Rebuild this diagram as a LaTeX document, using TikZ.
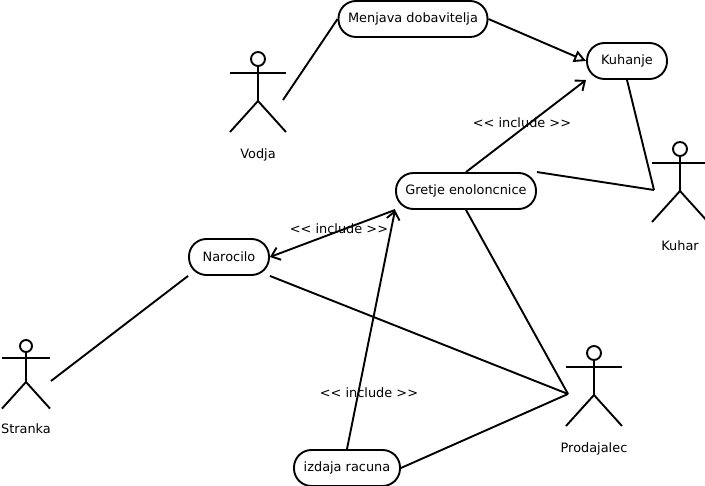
\documentclass[tikz,border=0pt]{standalone}
\usepackage{fontspec}
\setmainfont{DejaVu Sans}
\usetikzlibrary{arrows.meta}

\begin{document}
\begin{tikzpicture}[
    x=1pt, y=-1pt,
    every node/.style={font=\fontsize{12.9}{15}\selectfont},
    usecase/.style={rectangle, draw, line width=1.9pt, rounded corners=17.5pt, minimum height=36pt, inner sep=0pt, align=center},
    head/.style={circle, draw, line width=1.9pt, inner sep=0pt},
    limb/.style={line width=1.9pt},
    link/.style={line width=1.9pt},
    include/.style={line width=1.9pt, -{Straight Barb[length=8pt,width=13pt,line width=1.9pt]}},
    extend/.style={line width=1.9pt, -{Triangle[open,length=12pt,width=12pt,line width=1.9pt]}}
]
\useasboundingbox (0,0) rectangle (705,486);

% use cases
\node[usecase, minimum width=149pt] (menjava) at (413,19) {Menjava dobavitelja};
\node[usecase, minimum width=80pt] (kuhanje) at (627,61) {Kuhanje};
\node[usecase, minimum width=140pt] (gretje) at (466,191) {Gretje enoloncnice};
\node[usecase, minimum width=80pt] (narocilo) at (229,257) {Narocilo};
\node[usecase, minimum width=106pt] (izdaja) at (347,468) {izdaja racuna};

% actors
\foreach \name/\txt/\px/\py/\s/\d in {vodja/Vodja/258/59/1/14, kuhar/Kuhar/680/149/1/14, prodajalec/Prodajalec/594/353/1/14, stranka/Stranka/26/346/0.857/12}{
  \begin{scope}[shift={(\px,\py)}, scale=\s]
    \node[head, minimum size=\d pt] (\name head) at (0,0) {};
    \coordinate (\name hip) at (0,42);
    \draw[limb] (\name head) -- (\name hip);
    \draw[limb] (-28,14) -- (28,14);
    \draw[limb] (-28,73) -- (\name hip) -- (28,73);
    \node (\name) at (0,96.2) {\txt};
  \end{scope}
}

% free ends of the links
\coordinate (vodjaend) at (283,100);
\coordinate (kuharend) at (654,190);
\coordinate (prodend) at (568,394);
\coordinate (strankaend) at (51,381);

\draw[link] (menjava.west) -- (vodjaend);
\draw[link] (kuhanje.south) -- (kuharend);
\draw[link] (gretje.north east) -- (kuharend);
\draw[link] (gretje.south) -- (prodend);
\draw[link] (narocilo.south east) -- (prodend);
\draw[link] (izdaja.east) -- (prodend);
\draw[link] (narocilo.south west) -- (strankaend);

\draw[extend] (menjava.east) -- (kuhanje.west);
\draw[include] (gretje.north) -- (kuhanje.south west);
\draw[include] (gretje.south west) -- (narocilo.east);
\draw[include] (izdaja.north) -- (gretje.south west);

% labels
\node (inclkuhanje) at (522,123) {<{}< include >{}>};
\node (inclnarocilo) at (339,229) {<{}< include >{}>};
\node (inclizdaja) at (369,393) {<{}< include >{}>};
\end{tikzpicture}
\end{document}
